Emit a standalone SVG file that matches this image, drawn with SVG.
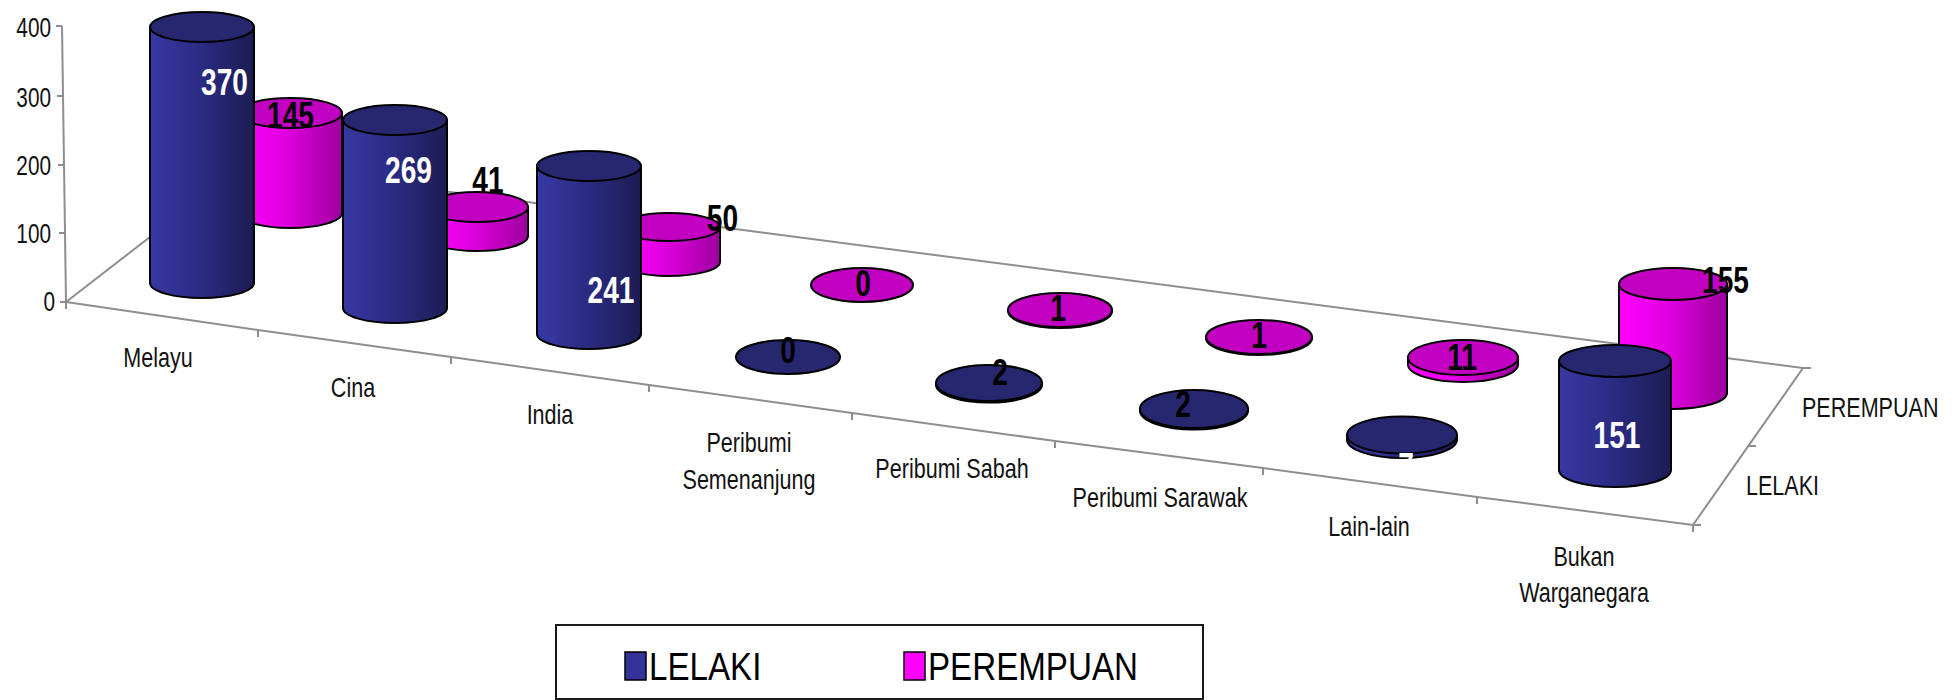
<svg xmlns="http://www.w3.org/2000/svg" width="1960" height="700" viewBox="0 0 1960 700">
<defs>
<linearGradient id="gN" x1="0" y1="0" x2="1" y2="0">
<stop offset="0" stop-color="#3838a4"/><stop offset="0.45" stop-color="#2c2c86"/><stop offset="1" stop-color="#1c1c54"/>
</linearGradient>
<linearGradient id="gM" x1="0" y1="0" x2="1" y2="0">
<stop offset="0" stop-color="#ff00ff"/><stop offset="0.45" stop-color="#e000e0"/><stop offset="1" stop-color="#9e009e"/>
</linearGradient>
</defs>
<style>
.sn{fill:url(#gN);stroke:#000;stroke-width:2}
.tn{fill:#27276f;stroke:#000;stroke-width:2}
.sm{fill:url(#gM);stroke:#000;stroke-width:2}
.tm{fill:#c200c2;stroke:#000;stroke-width:2}
.ax{fill:none;stroke:#8e8e8e;stroke-width:2}
text{font-family:"Liberation Sans",Arial,sans-serif}
.lab{font-size:28px;fill:#111}
.yl{font-size:27px;fill:#111;text-anchor:end}
.c{text-anchor:middle}
.val{font-size:37px;font-weight:bold;text-anchor:middle}
.w{fill:#fff}
.b{fill:#000}
.leg{font-size:39px;fill:#000}
</style>
<rect width="1960" height="700" fill="#fff"/>

<g id="axes">
<polyline class="ax" points="66,302 258,330 451,357 649,385 852,413 1055,441 1263,468 1477,497 1693,525 1803,368 243,165 66,302"/>
<path class="ax" d="M62,26 L66,302 M56,26H62 M57,96H63 M58,165H64 M59,233H65 M60,302H66 M66,302v7 M258,330v7 M451,357v7 M649,385v7 M852,413v7 M1055,441v7 M1263,468v7 M1477,497v7 M1693,525v7 M1693,525h8 M1748,446h8 M1803,368h8"/>
<text class="yl" transform="translate(51,37) scale(0.77,1)">400</text>
<text class="yl" transform="translate(51,107) scale(0.77,1)">300</text>
<text class="yl" transform="translate(51,175) scale(0.77,1)">200</text>
<text class="yl" transform="translate(51,243) scale(0.77,1)">100</text>
<text class="yl" transform="translate(55,311) scale(0.77,1)">0</text>
<text class="lab c" transform="translate(158,367) scale(0.77,1)">Melayu</text>
<text class="lab c" transform="translate(353,397) scale(0.77,1)">Cina</text>
<text class="lab c" transform="translate(550,424) scale(0.77,1)">India</text>
<text class="lab c" transform="translate(749,452) scale(0.77,1)">Peribumi</text>
<text class="lab c" transform="translate(749,489) scale(0.77,1)">Semenanjung</text>
<text class="lab c" transform="translate(952,478) scale(0.77,1)">Peribumi Sabah</text>
<text class="lab c" transform="translate(1160,507) scale(0.77,1)">Peribumi Sarawak</text>
<text class="lab c" transform="translate(1369,536) scale(0.77,1)">Lain-lain</text>
<text class="lab c" transform="translate(1584,566) scale(0.77,1)">Bukan</text>
<text class="lab c" transform="translate(1584,602) scale(0.77,1)">Warganegara</text>
<text class="lab" transform="translate(1802,417) scale(0.77,1)">PEREMPUAN</text>
<text class="lab" transform="translate(1746,495) scale(0.77,1)">LELAKI</text>
</g>

<g id="perempuan-melayu">
<path class="sm" d="M238,113 V213 A52,15 0 0 0 342,213 V113 Z"/>
<ellipse class="tm" cx="290" cy="113" rx="52" ry="15"/>
<text class="val b" transform="translate(290.5,128) scale(0.76,1)">145</text>
</g>
<g id="perempuan-cina">
<path class="sm" d="M426,207 V236 A51,15 0 0 0 528,236 V207 Z"/>
<ellipse class="tm" cx="477" cy="207" rx="51" ry="15"/>
<text class="val b" transform="translate(488,193) scale(0.76,1)">41</text>
</g>
<g id="perempuan-india">
<path class="sm" d="M618,227 V262 A51,14 0 0 0 720,262 V227 Z"/>
<ellipse class="tm" cx="669" cy="227" rx="51" ry="14"/>
<text class="val b" transform="translate(722.5,231) scale(0.76,1)">50</text>
</g>
<g id="perempuan-semenanjung">
<ellipse class="tm" cx="862" cy="285" rx="51" ry="17"/>
<text class="val b" transform="translate(863,296) scale(0.76,1)">0</text>
</g>
<g id="perempuan-sabah">
<path class="sm" d="M1008,310 V311 A52,17 0 0 0 1112,311 V310 Z"/>
<ellipse class="tm" cx="1060" cy="310" rx="52" ry="17"/>
<text class="val b" transform="translate(1058,321) scale(0.76,1)">1</text>
</g>
<g id="perempuan-sarawak">
<path class="sm" d="M1206,337 V338 A53,17 0 0 0 1312,338 V337 Z"/>
<ellipse class="tm" cx="1259" cy="337" rx="53" ry="17"/>
<text class="val b" transform="translate(1259,348) scale(0.76,1)">1</text>
</g>
<g id="perempuan-lain">
<path class="sm" d="M1408,357.5 V364.5 A55,17.5 0 0 0 1518,364.5 V357.5 Z"/>
<ellipse class="tm" cx="1463" cy="357.5" rx="55" ry="17.5"/>
<text class="val b" transform="translate(1462,370) scale(0.76,1)">11</text>
</g>
<g id="perempuan-bukan">
<path class="sm" d="M1619,284 V393 A54,16 0 0 0 1727,393 V284 Z"/>
<ellipse class="tm" cx="1673" cy="284" rx="54" ry="16"/>
<text class="val b" transform="translate(1725.5,293) scale(0.76,1)">155</text>
</g>

<g id="lelaki-melayu">
<path class="sn" d="M150,27 V283 A52,15 0 0 0 254,283 V27 Z"/>
<ellipse class="tn" cx="202" cy="27" rx="52" ry="15"/>
<text class="val w" transform="translate(224.5,95) scale(0.76,1)">370</text>
</g>
<g id="lelaki-cina">
<path class="sn" d="M343,120 V308 A52,15 0 0 0 447,308 V120 Z"/>
<ellipse class="tn" cx="395" cy="120" rx="52" ry="15"/>
<text class="val w" transform="translate(408.5,183) scale(0.76,1)">269</text>
</g>
<g id="lelaki-india">
<path class="sn" d="M537,166 V334 A52,15 0 0 0 641,334 V166 Z"/>
<ellipse class="tn" cx="589" cy="166" rx="52" ry="15"/>
<text class="val w" transform="translate(611,303) scale(0.76,1)">241</text>
</g>
<g id="lelaki-semenanjung">
<ellipse class="tn" cx="788" cy="357" rx="52" ry="17"/>
<text class="val b" transform="translate(788,363) scale(0.76,1)">0</text>
</g>
<g id="lelaki-sabah">
<path class="sn" d="M936,383 V384.5 A53,18 0 0 0 1042,384.5 V383 Z"/>
<ellipse class="tn" cx="989" cy="383" rx="53" ry="18"/>
<text class="val b" transform="translate(1000,385) scale(0.76,1)">2</text>
</g>
<g id="lelaki-sarawak">
<path class="sn" d="M1140,409 V410.5 A54,19 0 0 0 1248,410.5 V409 Z"/>
<ellipse class="tn" cx="1194" cy="409" rx="54" ry="19"/>
<text class="val b" transform="translate(1183,417) scale(0.76,1)">2</text>
</g>
<g id="lelaki-lain">
<path class="sn" d="M1347,435 V439.5 A55,18.5 0 0 0 1457,439.5 V435 Z"/>
<ellipse class="tn" cx="1402" cy="435" rx="55" ry="18.5"/>
<text class="val w" transform="translate(1406,478.5) scale(0.76,1)">7</text>
</g>
<g id="lelaki-bukan">
<path class="sn" d="M1559,361 V470 A56,17 0 0 0 1671,470 V361 Z"/>
<ellipse class="tn" cx="1615" cy="361" rx="56" ry="16"/>
<text class="val w" transform="translate(1617,448) scale(0.76,1)">151</text>
</g>

<g id="legend">
<rect x="556" y="625" width="647" height="74" fill="#fff" stroke="#1a1a1a" stroke-width="2"/>
<rect x="625" y="652" width="21" height="28" fill="#333399" stroke="#000" stroke-width="1.5"/>
<text class="leg" transform="translate(649,680) scale(0.85,1)">LELAKI</text>
<rect x="904" y="652" width="21" height="28" fill="#ff00ff" stroke="#000" stroke-width="1.5"/>
<text class="leg" transform="translate(928,680) scale(0.85,1)">PEREMPUAN</text>
</g>
</svg>
